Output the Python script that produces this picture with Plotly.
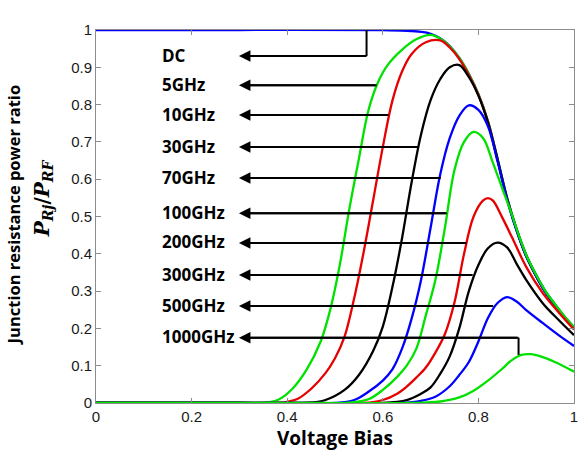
import plotly.graph_objects as go

# ---------------- data ----------------
labels = ["DC", "5GHz", "10GHz", "30GHz", "70GHz", "100GHz",
          "200GHz", "300GHz", "500GHz", "1000GHz"]

dc_x = [0, 0.3, 0.60, 0.65, 0.68, 0.70, 0.72, 0.74, 0.76, 0.78, 0.80, 0.82, 0.84,
        0.86, 0.88, 0.90, 0.92, 0.94, 0.96, 0.98, 1.0]
dc_y = [1, 1, 1, 0.998, 0.995, 0.99, 0.978, 0.957, 0.925, 0.882, 0.828, 0.755, 0.655,
        0.55, 0.466, 0.397, 0.345, 0.30, 0.265, 0.232, 0.203]

g5_x = [0, 0.15, 0.30, 0.34, 0.38, 0.41, 0.44, 0.47, 0.49, 0.51, 0.53, 0.55, 0.57, 0.59,
        0.61, 0.64, 0.67, 0.70, 0.72, 0.74, 0.76, 0.78, 0.80, 0.82, 0.84,
        0.86, 0.88, 0.90, 0.92, 0.94, 0.96, 0.98, 1.0]
g5_y = [0, 0, 0, 0.0, 0.008, 0.037, 0.088, 0.165, 0.25, 0.37, 0.52, 0.655, 0.785, 0.86,
        0.906, 0.947, 0.975, 0.987, 0.977, 0.956, 0.925, 0.882, 0.828, 0.755, 0.655,
        0.55, 0.466, 0.397, 0.345, 0.30, 0.265, 0.232, 0.203]

r10_x = [0, 0.15, 0.30, 0.38, 0.42, 0.45, 0.48, 0.50, 0.52, 0.54, 0.56, 0.58, 0.60, 0.62,
         0.64, 0.66, 0.69, 0.72, 0.74, 0.76, 0.78, 0.80, 0.82, 0.84, 0.86,
         0.88, 0.90, 0.92, 0.94, 0.96, 0.98, 1.0]
r10_y = [0, 0, 0, 0.0, 0.01, 0.038, 0.08, 0.12, 0.178, 0.28, 0.405, 0.545, 0.686, 0.81,
         0.888, 0.935, 0.967, 0.972, 0.953, 0.922, 0.879, 0.826, 0.753, 0.653, 0.548,
         0.464, 0.395, 0.343, 0.298, 0.263, 0.23, 0.2]

k30_x = [0, 0.15, 0.30, 0.44, 0.48, 0.52, 0.55, 0.58, 0.60, 0.62, 0.64, 0.66, 0.68, 0.70,
         0.72, 0.74, 0.76, 0.78, 0.80, 0.82, 0.84, 0.86, 0.88, 0.90, 0.92,
         0.94, 0.96, 0.98, 1.0]
k30_y = [0, 0, 0, 0.0, 0.008, 0.035, 0.075, 0.14, 0.205, 0.31, 0.44, 0.59, 0.72, 0.812,
         0.868, 0.9, 0.906, 0.874, 0.824, 0.752, 0.652, 0.547, 0.463, 0.394, 0.342,
         0.297, 0.262, 0.229, 0.199]

b70_x = [0, 0.15, 0.30, 0.50, 0.54, 0.57, 0.60, 0.62, 0.64, 0.66, 0.68, 0.70, 0.72, 0.74,
         0.76, 0.78, 0.80, 0.82, 0.84, 0.86, 0.88, 0.90, 0.92, 0.94, 0.96,
         0.98, 1.0]
b70_y = [0, 0, 0, 0.0, 0.008, 0.03, 0.06, 0.09, 0.145, 0.225, 0.33, 0.47, 0.612, 0.71,
         0.77, 0.798, 0.786, 0.742, 0.648, 0.545, 0.462, 0.393, 0.342, 0.297, 0.262,
         0.229, 0.199]

g100_x = [0, 0.15, 0.30, 0.52, 0.57, 0.60, 0.63, 0.65, 0.67, 0.69, 0.71, 0.73, 0.75, 0.77,
          0.79, 0.81, 0.83, 0.85, 0.87, 0.88, 0.90, 0.92, 0.94, 0.96, 0.98, 1.0]
g100_y = [0, 0, 0, 0.0, 0.01, 0.035, 0.07, 0.10, 0.145, 0.235, 0.33, 0.47, 0.625, 0.70,
          0.727, 0.71, 0.645, 0.575, 0.505, 0.466, 0.397, 0.345, 0.30, 0.265, 0.232, 0.203]

r200_x = [0, 0.15, 0.30, 0.45, 0.56, 0.60, 0.63, 0.65, 0.67, 0.69, 0.71, 0.73, 0.75, 0.77, 0.79,
          0.81, 0.82, 0.83, 0.85, 0.87, 0.90, 0.935, 0.97, 1.0]
r200_y = [0, 0, 0, 0, 0.0, 0.008, 0.025, 0.044, 0.068, 0.095, 0.135, 0.185, 0.27, 0.40, 0.50,
          0.543, 0.549, 0.543, 0.497, 0.445, 0.365, 0.294, 0.24, 0.197]

k300_x = [0, 0.15, 0.30, 0.45, 0.60, 0.65, 0.68, 0.70, 0.72, 0.74, 0.76, 0.78, 0.80, 0.82, 0.84,
          0.86, 0.88, 0.90, 0.935, 0.97, 1.0]
k300_y = [0, 0, 0, 0, 0.0, 0.008, 0.025, 0.042, 0.078, 0.125, 0.20, 0.30, 0.37, 0.415, 0.43,
          0.417, 0.373, 0.33, 0.267, 0.22, 0.182]

b500_x = [0, 0.15, 0.30, 0.45, 0.64, 0.68, 0.71, 0.74, 0.76, 0.78, 0.80, 0.82, 0.84, 0.86, 0.88,
          0.90, 0.935, 0.97, 1.0]
b500_y = [0, 0, 0, 0, 0.0, 0.006, 0.017, 0.045, 0.075, 0.11, 0.165, 0.228, 0.268, 0.284, 0.272,
          0.249, 0.214, 0.18, 0.153]

g1000_x = [0, 0.15, 0.30, 0.45, 0.66, 0.72, 0.76, 0.79, 0.82, 0.85, 0.87, 0.89, 0.91, 0.93,
           0.96, 1.0]
g1000_y = [0, 0, 0, 0, 0.0, 0.004, 0.015, 0.033, 0.06, 0.092, 0.115, 0.129, 0.131, 0.125,
           0.11, 0.084]

x_ticks = [0, 0.2, 0.4, 0.6, 0.8, 1]
x_tick_text = ["0", "0.2", "0.4", "0.6", "0.8", "1"]
y_ticks = [0, 0.1, 0.2, 0.3, 0.4, 0.5, 0.6, 0.7, 0.8, 0.9, 1]
y_tick_text = ["0", "0.1", "0.2", "0.3", "0.4", "0.5", "0.6", "0.7", "0.8", "0.9", "1"]

# arrow annotation geometry (data units)
arrow_level = [0.930, 0.852, 0.772, 0.686, 0.603, 0.509, 0.429, 0.343, 0.260, 0.175]
arrow_end = [0.566, 0.587, 0.612, 0.674, 0.721, 0.734, 0.775, 0.788, 0.831, 0.884]
ARROW_TIP = 0.299
LABEL_X = 0.133

# ---------------- styling ----------------
BLUE = "rgb(0,0,255)"
GREEN = "rgb(0,225,0)"
RED = "rgb(230,0,0)"
BLACK = "rgb(0,0,0)"

series = [
    (dc_x, dc_y, BLUE), (g5_x, g5_y, GREEN), (r10_x, r10_y, RED),
    (k30_x, k30_y, BLACK), (b70_x, b70_y, BLUE), (g100_x, g100_y, GREEN),
    (r200_x, r200_y, RED), (k300_x, k300_y, BLACK), (b500_x, b500_y, BLUE),
    (g1000_x, g1000_y, GREEN),
]

fig = go.Figure()
for (xs, ys, col), name in zip(series, labels):
    fig.add_trace(go.Scatter(
        x=xs, y=ys, mode="lines", name=name,
        line=dict(color=col, width=2.3, shape="spline", smoothing=1.0),
        showlegend=False, hoverinfo="skip"))

LABEL_FONT = dict(family="Open Sans", size=17, color="black")
for lab, lvl, end in zip(labels, arrow_level, arrow_end):
    fig.add_shape(type="line", xref="x", yref="y", x0=ARROW_TIP + 0.01, x1=end,
                  y0=lvl, y1=lvl, line=dict(color="black", width=2))
    fig.add_annotation(x=ARROW_TIP, y=lvl, ax=end, ay=lvl, xref="x", yref="y",
                       axref="x", ayref="y", text="", showarrow=True,
                       arrowhead=2, arrowsize=1.15, arrowwidth=2,
                       arrowcolor="black", standoff=0, startstandoff=0)
    fig.add_annotation(x=LABEL_X, y=lvl, xref="x", yref="y", text="<b>%s</b>" % lab,
                       showarrow=False, xanchor="left", yanchor="middle",
                       font=LABEL_FONT, yshift=1)

# connector stubs for the first and the last arrow
fig.add_shape(type="line", xref="x", yref="y", x0=arrow_end[0], x1=arrow_end[0],
              y0=arrow_level[0], y1=dc_y[0], line=dict(color="black", width=2))
fig.add_shape(type="line", xref="x", yref="y", x0=arrow_end[-1], x1=arrow_end[-1],
              y0=arrow_level[-1], y1=0.129, line=dict(color="black", width=2))

# axis titles
fig.add_annotation(x=-0.172, y=0.505, xref="paper", yref="paper",
                   text="<b>Junction resistance power ratio</b>", textangle=-90,
                   showarrow=False, font=dict(family="Open Sans", size=16.5, color="black"),
                   xanchor="center", yanchor="middle")
fig.add_annotation(x=-0.112, y=0.55, xref="paper", yref="paper",
                   text="<b><i>P<sub>Rj</sub></i>/<i>P<sub>RF</sub></i></b>",
                   textangle=-90, showarrow=False,
                   font=dict(family="DejaVu Serif", size=20, color="black"),
                   xanchor="center", yanchor="middle")

axis_common = dict(showline=True, linecolor="#8c8c8c", linewidth=1, mirror="ticks",
                   ticks="inside", ticklen=5, tickcolor="#8c8c8c", showgrid=False,
                   zeroline=False,
                   tickfont=dict(family="Liberation Sans", size=15, color="#1a1a1a"))

fig.update_layout(
    width=587, height=461,
    margin=dict(l=96, r=9, t=30, b=58),
    paper_bgcolor="white", plot_bgcolor="white",
    xaxis=dict(range=[0, 1], tickvals=x_ticks, ticktext=x_tick_text,
               title=dict(text="<b>Voltage Bias</b>",
                          font=dict(family="Open Sans", size=19, color="black"),
                          standoff=4),
               **axis_common),
    yaxis=dict(range=[0, 1], tickvals=y_ticks, ticktext=y_tick_text, **axis_common),
)

fig.write_html("out.html")
